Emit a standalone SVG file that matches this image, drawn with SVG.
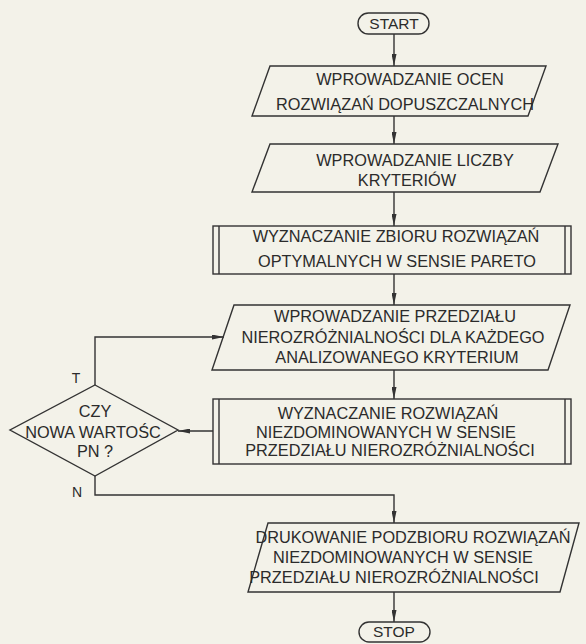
<svg xmlns="http://www.w3.org/2000/svg" width="586" height="644" viewBox="0 0 586 644">
<style>
.s{fill:none;stroke:#333;stroke-width:1.4}
.t{font-family:"Liberation Sans",Arial,sans-serif;font-size:16.3px;fill:#2b2b2b;text-anchor:middle}
.l{font-family:"Liberation Sans",Arial,sans-serif;font-size:14px;fill:#2b2b2b;text-anchor:middle}
.c{fill:none;stroke:#333;stroke-width:1.4;marker-end:url(#ah)}
</style>
<defs>
<marker id="ah" viewBox="0 0 12 5" refX="12" refY="2.5" markerWidth="12" markerHeight="5" markerUnits="userSpaceOnUse" orient="auto">
<path d="M0,0 L12,2.5 L0,5 z" fill="#333"/>
</marker>
</defs>
<rect width="586" height="644" fill="#f3f2e9"/>
<g id="connectors">
<path class="c" d="M394,34 V66"/>
<path class="c" d="M394,116 V144"/>
<path class="c" d="M394,192 V226"/>
<path class="c" d="M394,274 V305"/>
<path class="c" d="M394,370 V399"/>
<path class="c" d="M213,431 H178"/>
<path class="c" d="M95,385 V337 H224"/>
<path class="c" d="M95,476 V495 H394 V523"/>
<path class="c" d="M394,592 V622"/>
</g>
<g id="start">
<rect class="s" x="358" y="13" width="71" height="21" rx="10.5"/>
<text class="t" x="394" y="29" style="font-size:15.5px">START</text>
</g>
<g id="input-oceny">
<polygon class="s" points="270,66 546,66 528,116 252,116"/>
<text class="t" x="410" y="85">WPROWADZANIE OCEN</text>
<text class="t" x="405" y="110">ROZWIĄZAŃ DOPUSZCZALNYCH</text>
</g>
<g id="input-kryteria">
<polygon class="s" points="270,144 558,144 540,192 252,192"/>
<text class="t" x="415" y="166">WPROWADZANIE LICZBY</text>
<text class="t" x="407" y="186">KRYTERIÓW</text>
</g>
<g id="pareto">
<rect class="s" x="213" y="226" width="358" height="48"/>
<path class="s" d="M219,226 V274 M565,226 V274"/>
<text class="t" x="396" y="242">WYZNACZANIE ZBIORU ROZWIĄZAŃ</text>
<text class="t" x="397" y="267">OPTYMALNYCH W SENSIE PARETO</text>
</g>
<g id="input-przedzial">
<polygon class="s" points="234,305 570,305 548,370 212,370"/>
<text class="t" x="395" y="322">WPROWADZANIE PRZEDZIAŁU</text>
<text class="t" x="393" y="343">NIEROZRÓŻNIALNOŚCI DLA KAŻDEGO</text>
<text class="t" x="397" y="363">ANALIZOWANEGO KRYTERIUM</text>
</g>
<g id="niezdominowane">
<rect class="s" x="213" y="399" width="358" height="65"/>
<path class="s" d="M219,399 V464 M565,399 V464"/>
<text class="t" x="388" y="419">WYZNACZANIE ROZWIĄZAŃ</text>
<text class="t" x="386" y="438">NIEZDOMINOWANYCH W SENSIE</text>
<text class="t" x="390" y="456">PRZEDZIAŁU NIEROZRÓŻNIALNOŚCI</text>
</g>
<g id="decyzja">
<polygon class="s" points="95,385 178,430 95,476 10,430"/>
<text class="t" x="95" y="417">CZY</text>
<text class="t" x="93" y="438">NOWA WARTOŚC</text>
<text class="t" x="95" y="457">PN ?</text>
<text class="l" x="76" y="383">T</text>
<text class="l" x="77" y="497">N</text>
</g>
<g id="drukowanie">
<polygon class="s" points="268,523 579,523 560,592 248,592"/>
<text class="t" x="413" y="543">DRUKOWANIE PODZBIORU ROZWIĄZAŃ</text>
<text class="t" x="403" y="563">NIEZDOMINOWANYCH W SENSIE</text>
<text class="t" x="394" y="583">PRZEDZIAŁU NIEROZRÓŻNIALNOŚCI</text>
</g>
<g id="stop">
<rect class="s" x="359" y="622" width="71" height="20" rx="10"/>
<text class="t" x="394" y="637" style="font-size:15.5px">STOP</text>
</g>
</svg>
